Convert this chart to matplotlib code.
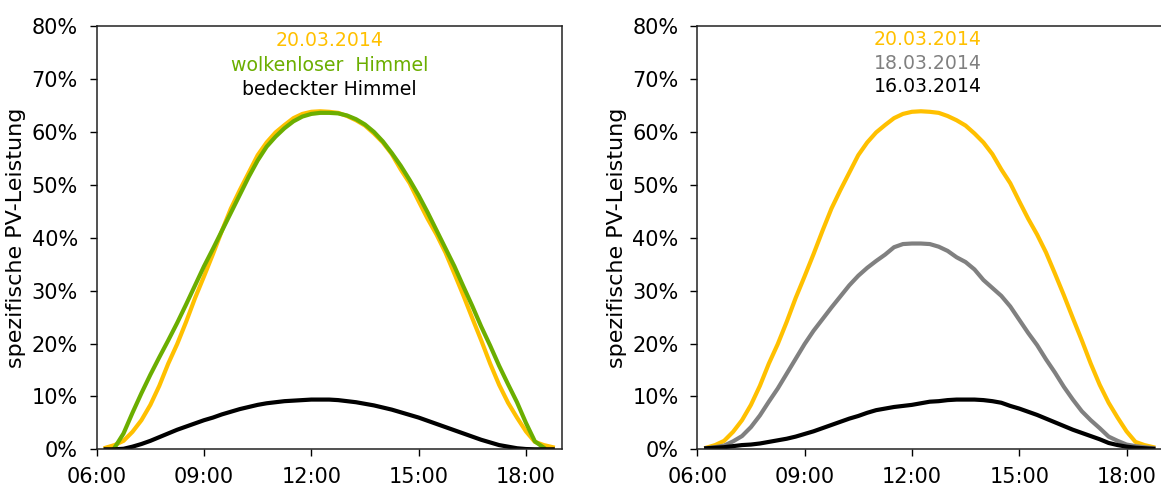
import matplotlib
matplotlib.use('Agg')
import matplotlib.pyplot as plt
import numpy as np
from matplotlib.ticker import FuncFormatter

# 15-minute time steps, 06:15 .. 18:45
t = np.arange(6.25, 18.76, 0.25)

# measured specific PV output [%]
p_20_03 = [0.3, 0.8, 1.6, 3.3, 5.5, 8.4, 12.0, 16.2, 19.9, 24.1, 28.6, 32.7, 36.9,
           41.3, 45.5, 49.0, 52.3, 55.6, 58.0, 59.9, 61.3, 62.6, 63.4, 63.8, 63.9,
           63.8, 63.6, 63.0, 62.2, 61.2, 59.7, 58.0, 55.8, 52.9, 50.3, 46.9, 43.6,
           40.6, 37.2, 33.2, 29.1, 24.8, 20.6, 16.2, 12.2, 8.8, 6.0, 3.4, 1.4, 0.8, 0.4]
p_18_03 = [0.2, 0.4, 0.7, 1.5, 2.5, 4.2, 6.4, 9.0, 11.5, 14.3, 17.1, 19.9, 22.4,
           24.6, 26.8, 28.9, 31.0, 32.8, 34.3, 35.6, 36.8, 38.2, 38.8, 38.9, 38.9,
           38.8, 38.3, 37.5, 36.3, 35.4, 34.0, 32.0, 30.5, 29.0, 27.0, 24.5, 22.0,
           19.7, 17.0, 14.5, 11.8, 9.4, 7.2, 5.5, 4.0, 2.4, 1.6, 0.9, 0.6, 0.4, 0.2]
p_16_03 = [0.2, 0.3, 0.4, 0.6, 0.8, 0.9, 1.1, 1.4, 1.7, 2.0, 2.4, 2.9, 3.4,
           4.0, 4.6, 5.2, 5.8, 6.3, 6.9, 7.4, 7.7, 8.0, 8.2, 8.4, 8.7,
           9.0, 9.1, 9.3, 9.4, 9.4, 9.4, 9.3, 9.1, 8.8, 8.2, 7.7, 7.1,
           6.5, 5.8, 5.1, 4.4, 3.7, 3.1, 2.5, 1.9, 1.2, 0.8, 0.5, 0.3, 0.2, 0.1]

# modelled curves: clear sky and overcast
p_klar = [np.nan, 0.3, 3.0, 6.9, 10.6, 14.1, 17.4, 20.6, 23.9, 27.4, 31.0, 34.6, 37.9,
          41.3, 44.7, 48.1, 51.5, 54.6, 57.2, 59.1, 60.7, 62.0, 62.9, 63.4, 63.6,
          63.6, 63.5, 63.1, 62.4, 61.4, 60.0, 58.2, 56.0, 53.6, 50.9, 48.0, 44.8,
          41.4, 38.0, 34.6, 30.8, 27.1, 23.2, 19.6, 15.8, 12.3, 8.9, 5.0, 1.5, 0.3, np.nan]
p_bedeckt = [0.0, 0.0, 0.1, 0.5, 1.0, 1.6, 2.3, 3.0, 3.7, 4.3, 4.9, 5.5, 6.0,
             6.6, 7.1, 7.6, 8.0, 8.4, 8.7, 8.9, 9.1, 9.2, 9.3, 9.4, 9.4,
             9.4, 9.3, 9.1, 8.9, 8.6, 8.3, 7.9, 7.5, 7.0, 6.5, 6.0, 5.4,
             4.8, 4.2, 3.6, 3.0, 2.4, 1.8, 1.3, 0.8, 0.5, 0.2, 0.05, 0.0, 0.0, 0.0]

orange = '#FFC000'
green = '#6BAE00'
grey = '#808080'

plt.rcParams['font.family'] = 'DejaVu Sans'

fig = plt.figure(figsize=(11.61, 4.87), dpi=100)
ax1 = fig.add_axes([0.0833, 0.0774, 0.4005, 0.869])
ax2 = fig.add_axes([0.6006, 0.0774, 0.4005, 0.869])

ax1.plot(t, p_20_03, color=orange, lw=3)
ax1.plot(t, p_klar, color=green, lw=3)
ax1.plot(t, p_bedeckt, color='black', lw=3)

ax2.plot(t, p_20_03, color=orange, lw=3)
ax2.plot(t, p_18_03, color=grey, lw=3)
ax2.plot(t, p_16_03, color='black', lw=3)

fs = 13.6
ax1.text(12.51, 77.3, '20.03.2014', color=orange, fontsize=fs, ha='center', va='center')
ax1.text(12.51, 72.5, 'wolkenloser  Himmel', color=green, fontsize=fs, ha='center', va='center')
ax1.text(12.51, 68.0, 'bedeckter Himmel', color='black', fontsize=fs, ha='center', va='center')

ax2.text(12.44, 77.4, '20.03.2014', color=orange, fontsize=fs, ha='center', va='center')
ax2.text(12.44, 72.9, '18.03.2014', color=grey, fontsize=fs, ha='center', va='center')
ax2.text(12.44, 68.5, '16.03.2014', color='black', fontsize=fs, ha='center', va='center')

for ax in (ax1, ax2):
    ax.set_xlim(6, 19)
    ax.set_ylim(0, 80)
    ax.set_xticks([6, 9, 12, 15, 18])
    ax.xaxis.set_major_formatter(FuncFormatter(lambda v, pos: '%02d:00' % int(v)))
    ax.set_yticks(np.arange(0, 81, 10))
    ax.yaxis.set_major_formatter(FuncFormatter(lambda v, pos: '%d%%' % v))
    ax.tick_params(axis='x', direction='out', length=5, width=1, pad=8, labelsize=15)
    ax.tick_params(axis='y', direction='out', length=5, width=1, pad=8.5, labelsize=15)
    for s in ax.spines.values():
        s.set_linewidth(1.1)
        s.set_color('#222222')
    ax.set_ylabel('spezifische PV-Leistung', fontsize=16)
    ax.yaxis.set_label_coords(-0.152, 0.5)

fig.savefig('out.png', dpi=100)
